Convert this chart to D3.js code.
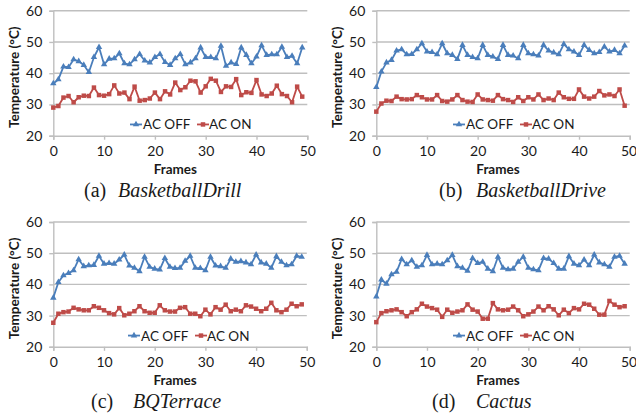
<!DOCTYPE html>
<html><head><meta charset="utf-8">
<script src="https://cdn.jsdelivr.net/npm/d3@7"></script>
<style>body{margin:0;background:#fff}svg{display:block}</style>
</head><body>
<svg id="c" width="636" height="414"></svg>
<script>
const frames = d3.range(0, 50);
const yTicks = [20, 30, 40, 50, 60];
const xTicks = [0, 10, 20, 30, 40, 50];
const seriesNames = ["AC OFF", "AC ON"];
const panelLabels = ["(a)", "(b)", "(c)", "(d)"];
const panelNames = ["BasketballDrill", "BasketballDrive", "BQTerrace", "Cactus"];

const drillOff = [36.7,38.0,42.1,41.9,44.4,43.8,42.6,40.3,45.1,48.3,42.8,44.6,44.7,46.3,43.1,42.8,44.4,46.1,44.0,43.4,45.1,46.1,43.5,42.6,44.7,46.1,42.8,43.4,44.7,48.2,45.1,45.1,44.7,48.7,42.3,43.4,42.9,48.2,45.8,43.1,45.3,48.9,45.8,46.0,46.0,48.4,45.1,45.5,43.1,48.2];
const drillOn = [29.0,29.5,32.2,32.7,30.7,32.3,32.8,32.7,35.4,33.0,32.8,33.3,36.1,33.5,33.8,31.7,35.7,31.2,31.4,31.9,33.8,31.7,34.2,33.2,37.0,34.6,35.5,37.6,37.4,33.8,35.8,38.2,37.6,34.0,35.8,35.6,38.1,33.0,33.9,33.7,37.8,33.2,32.7,33.5,36.0,33.3,32.7,30.7,35.7,32.5];
const driveOff = [35.5,40.5,43.4,44.2,47.2,47.6,46.0,46.1,47.6,49.5,46.9,46.7,46.0,49.5,46.3,45.8,44.5,49.0,45.8,45.1,44.7,49.0,45.8,45.3,44.5,49.0,45.8,45.6,44.7,49.0,46.3,46.0,45.6,49.0,47.2,46.6,46.0,49.3,47.6,46.9,45.8,49.0,47.4,46.3,46.7,48.5,46.9,47.4,46.3,48.8];
const driveOn = [27.7,30.3,31.2,31.1,32.5,31.7,31.6,31.7,33.0,32.3,31.6,31.6,33.0,31.1,30.9,31.6,33.0,31.4,30.9,30.8,33.2,31.6,31.4,31.2,33.0,31.7,31.4,30.8,32.3,31.1,32.3,31.6,33.2,31.4,31.9,31.4,33.8,32.3,31.8,31.8,34.8,32.5,31.9,32.5,34.3,32.9,33.2,32.7,34.8,29.6];
const terraceOff = [35.7,40.7,42.9,43.6,44.5,48.0,45.8,46.1,46.2,49.1,46.6,46.8,46.6,47.9,49.5,46.0,45.3,44.2,48.8,45.6,45.0,44.7,48.4,45.6,45.2,45.3,47.5,49.1,45.3,45.2,44.5,48.8,46.0,45.8,45.3,48.2,47.2,47.4,47.0,46.4,49.5,47.0,46.6,45.3,49.0,47.2,46.1,46.4,49.1,48.8];
const terraceOn = [27.7,30.6,31.1,31.3,32.5,32.0,31.7,31.7,33.0,32.5,31.7,30.8,30.4,32.4,30.1,30.6,31.4,33.0,31.4,30.9,30.9,33.3,31.7,31.3,31.3,32.5,32.7,30.6,30.6,29.8,31.9,30.4,32.7,31.9,33.5,31.4,31.9,31.4,33.3,32.9,32.2,31.4,32.2,34.1,31.7,31.1,31.9,33.8,33.0,33.6];
const cactusOff = [36.1,41.5,40.2,43.2,44.0,48.1,46.4,47.7,45.6,46.1,49.4,46.4,46.6,46.4,47.7,49.4,45.8,45.3,44.3,48.4,46.8,47.2,45.0,44.2,48.8,45.3,44.8,45.0,47.2,48.8,45.3,44.8,44.5,48.4,48.2,46.8,45.0,45.0,49.0,46.6,46.1,47.9,46.1,49.5,47.0,46.4,45.6,48.8,49.1,46.6];
const cactusOn = [27.9,30.8,31.4,31.7,32.0,31.1,29.8,31.1,32.0,33.8,32.9,32.4,31.9,29.6,31.9,30.9,31.3,31.7,33.6,31.9,31.3,29.0,29.0,34.0,32.0,31.7,31.9,32.9,31.7,29.8,30.4,31.3,32.9,31.7,33.0,32.0,30.1,31.9,30.8,32.4,32.0,33.8,33.5,32.2,30.3,30.3,34.7,33.5,32.7,33.0];

const panelData = [[drillOff, drillOn],[driveOff, driveOn],[terraceOff, terraceOn],[cactusOff, cactusOn]];
const colors = ["#4a7ebb", "#be4b48"];
const gridColor = "#bfbfbf";
const textColor = "#1a1a1a";
const sansFont = "Lato, 'Open Sans', sans-serif";

const svg = d3.select("#c");
const panelPos = [
  {x0: 53.3, x1: 307.3, y0: 10.7, y1: 135.7},
  {x0: 376.3, x1: 629.7, y0: 10.7, y1: 135.7},
  {x0: 53.3, x1: 306.8, y0: 222, y1: 346.8},
  {x0: 376.3, x1: 629.7, y0: 222, y1: 346.8}
];

panelPos.forEach((p, i) => {
  const g = svg.append("g");
  const x = d3.scaleLinear().domain([0, 50]).range([p.x0, p.x1]);
  const y = d3.scaleLinear().domain([20, 60]).range([p.y1, p.y0]);

  g.selectAll("line.grid").data(yTicks.filter(t => t > 20)).join("line")
    .attr("x1", p.x0).attr("x2", p.x1)
    .attr("y1", d => y(d)).attr("y2", d => y(d))
    .attr("stroke", gridColor).attr("stroke-width", 1.4);

  const ya = g.append("g").attr("transform", `translate(${p.x0},0)`)
    .call(d3.axisLeft(y).tickValues(yTicks).tickSize(4).tickPadding(7));
  ya.select(".domain").attr("stroke", gridColor).attr("stroke-width", 1.4);
  ya.selectAll(".tick line").attr("stroke", gridColor).attr("stroke-width", 1.4);
  ya.selectAll("text").attr("font-family", sansFont).attr("font-size", 14).attr("fill", textColor);

  const xa = g.append("g").attr("transform", `translate(0,${p.y1})`)
    .call(d3.axisBottom(x).tickValues(xTicks).tickSize(4).tickPadding(6));
  xa.select(".domain").attr("stroke", gridColor).attr("stroke-width", 1.4);
  xa.selectAll(".tick line").attr("stroke", gridColor).attr("stroke-width", 1.4);
  xa.selectAll("text").attr("font-family", sansFont).attr("font-size", 14).attr("fill", textColor);
  if (p.x1 > 620) {
    xa.selectAll(".tick").filter(d => d === 50).select("text").attr("text-anchor", "end").attr("dx", 7);
  }

  g.append("text")
    .attr("transform", `translate(${p.x0 - 34},${(p.y0 + p.y1) / 2 + 4}) rotate(-90)`)
    .attr("text-anchor", "middle").attr("font-family", sansFont)
    .attr("font-weight", "bold").attr("font-size", 13.5).attr("fill", textColor)
    .text("Temperature (°C)");
  g.append("text")
    .attr("x", (p.x0 + p.x1) / 2 - 5).attr("y", p.y1 + 38)
    .attr("text-anchor", "middle").attr("font-family", sansFont)
    .attr("font-weight", "bold").attr("font-size", 13.5).attr("fill", textColor)
    .text("Frames");

  const cap = g.append("text").attr("y", p.y1 + 61)
    .attr("font-family", "'Liberation Serif', 'Times New Roman', serif")
    .attr("font-size", 20).attr("fill", textColor);
  const capX = [84, 439, 91, 432][i];
  const nameX = [118, 476, 133, 476][i];
  cap.append("tspan").attr("x", capX).text(panelLabels[i]);
  cap.append("tspan").attr("x", nameX).attr("font-style", "italic").text(panelNames[i]);

  const symbols = [d3.symbolTriangle, d3.symbolSquare];
  const sizes = [18, 20];
  panelData[i].forEach((vals, s) => {
    const line = d3.line().x((d, k) => x(frames[k])).y(d => y(d));
    g.append("path").datum(vals).attr("d", line)
      .attr("fill", "none").attr("stroke", colors[s]).attr("stroke-width", 1.8)
      .attr("stroke-linejoin", "round");
    g.selectAll(null).data(vals).join("path")
      .attr("transform", (d, k) => `translate(${x(frames[k])},${y(d)})`)
      .attr("d", d3.symbol().type(symbols[s]).size(sizes[s]))
      .attr("fill", colors[s]);
  });

  const ly = y(23.6);
  const lx = [130, 453, 128, 453][i];
  const items = [{sx: lx, tx: lx + 13}, {sx: lx + 67, tx: lx + 79}];
  items.forEach((it, s) => {
    g.append("line").attr("x1", it.sx).attr("x2", it.sx + 12)
      .attr("y1", ly).attr("y2", ly).attr("stroke", colors[s]).attr("stroke-width", 1.8);
    g.append("path").attr("transform", `translate(${it.sx + 6},${ly})`)
      .attr("d", d3.symbol().type(symbols[s]).size(sizes[s])).attr("fill", colors[s]);
    g.append("text").attr("x", it.tx).attr("y", ly + 5)
      .attr("font-family", sansFont).attr("font-size", 13.5).attr("fill", textColor)
      .text(seriesNames[s]);
  });
});
</script>
</body></html>
